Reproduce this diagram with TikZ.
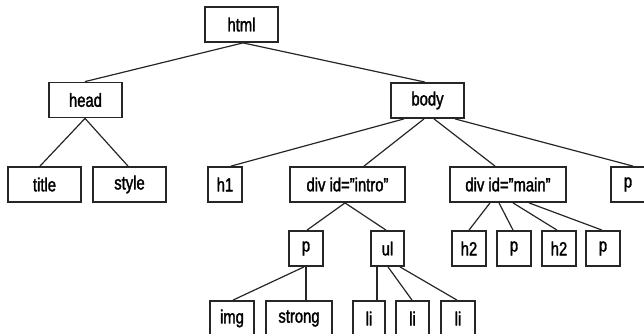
\documentclass[tikz,border=0pt]{standalone}
\usepackage{fontspec}
\setmainfont[FakeStretch=0.78,FakeBold=1.6]{Liberation Sans}
\begin{document}
\begin{tikzpicture}[x=1pt,y=-1pt,
  box/.style={draw=black!85,line width=1.8pt,minimum height=35pt,inner sep=0pt,
    font=\fontsize{19}{22}\selectfont},
  conn/.style={draw=black!85,line width=1.2pt}]
\useasboundingbox (0,0) rectangle (644,334);
\newcommand\conn[4]{\draw[conn] ([xshift=#2pt]#1.south) -- ([xshift=#4pt]#3.north);}
\newcommand\dq{\char34\relax}
% level 1-2
\node[box,minimum width=73pt] (html) at (241.5,24.5) {html};
\node[box,minimum width=73pt] (head) at (85.5,100) {head};
\node[box,minimum width=73pt] (body) at (427.5,100.5) {body};
% level 3
\node[box,minimum width=73pt] (title) at (44.5,184.5) {title};
\node[box,minimum width=73pt] (style) at (129.5,184.5) {style};
\node[box,minimum width=34pt] (h1) at (225,184.5) {h1};
\node[box,minimum width=115pt] (intro) at (347.5,184.5) {div id=\dq intro\dq};
\node[box,minimum width=116pt] (main) at (508,184.5) {div id=\dq main\dq};
\node[box,minimum width=34pt] (pR) at (628,184.5) {p};
% level 4
\node[box,minimum width=34pt] (p1) at (306,248.5) {p};
\node[box,minimum width=33pt] (ul) at (387.5,248.5) {ul};
\node[box,minimum width=34pt] (h2a) at (469,248.5) {h2};
\node[box,minimum width=34pt] (pa) at (514,248.5) {p};
\node[box,minimum width=34pt] (h2b) at (559,248.5) {h2};
\node[box,minimum width=34pt] (pb) at (603,248.5) {p};
% level 5
\node[box,minimum width=44pt] (img) at (232,318.5) {img};
\node[box,minimum width=66pt] (strong) at (299,318.5) {strong};
\node[box,minimum width=32pt] (li1) at (369,318.5) {li};
\node[box,minimum width=33pt] (li2) at (412.5,318.5) {li};
\node[box,minimum width=34pt] (li3) at (458,318.5) {li};
% connectors
\conn{html}{1.5}{head}{-0.5}
\conn{html}{1.5}{body}{-2.5}
\conn{head}{-0.5}{title}{-4.5}
\conn{head}{-0.5}{style}{-1.5}
\conn{body}{-23.5}{h1}{6}
\conn{body}{-3.5}{intro}{16.5}
\conn{body}{6.5}{main}{-13}
\conn{body}{27.5}{pR}{5}
\conn{intro}{-2.5}{p1}{1}
\conn{intro}{-2.5}{ul}{-1.5}
\conn{p1}{-2}{img}{1}
\conn{p1}{0}{strong}{7}
\conn{ul}{-10.5}{li1}{8}
\conn{ul}{0.5}{li2}{-0.5}
\conn{ul}{12.5}{li3}{-1}
\conn{main}{-18}{h2a}{0}
\conn{main}{-9}{pa}{-1}
\conn{main}{5}{h2b}{-2}
\conn{main}{21}{pb}{-1}
\end{tikzpicture}
\end{document}
